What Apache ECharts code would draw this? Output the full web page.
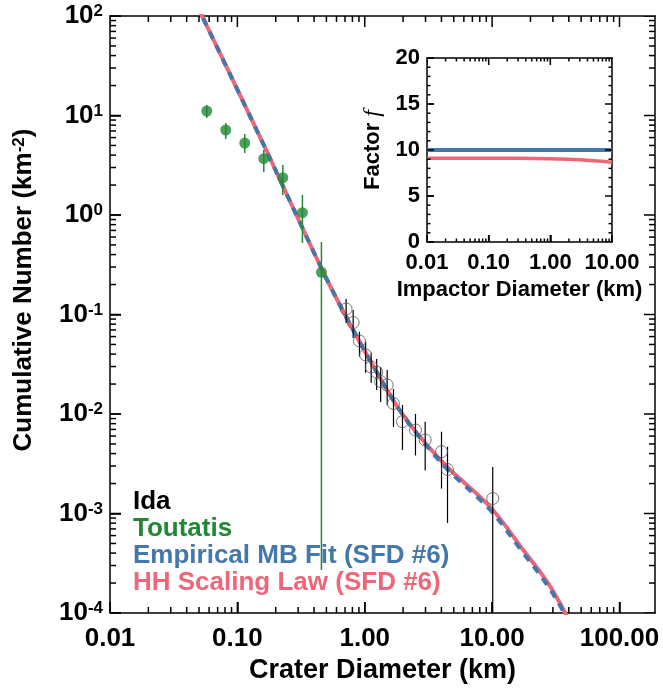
<!DOCTYPE html>
<html><head><meta charset="utf-8">
<script src="https://cdn.jsdelivr.net/npm/echarts@6/dist/echarts.min.js"></script>
<style>html,body{margin:0;padding:0;background:#fff}#c{width:663px;height:690px}</style>
</head><body><div id="c"></div>
<script>
// ---------- data ----------
// HH scaling law (SFD #6), red solid
const hhD = [0.0425, 0.0528, 0.0994, 0.171, 0.2164, 0.311, 0.5066, 0.811, 1.321, 1.897, 2.724, 4.44, 9.663, 17.55, 27.09, 37.52, 47.5];
const hhN = [178, 100, 18.5, 4.30, 2.248, 0.831, 0.2222, 0.0699, 0.0230, 0.01072, 0.00587, 0.002934, 0.001162, 0.000430, 0.000205, 0.0001, 0.0000535];
// Empirical MB fit (SFD #6), blue dashed
const mbD = [0.0425, 0.0528, 0.0994, 0.171, 0.2164, 0.311, 0.5066, 0.811, 1.321, 1.897, 2.724, 4.44, 9.663, 17.55, 27.09, 37.52, 47.5];
const mbN = [178, 100, 18.5, 4.30, 2.248, 0.831, 0.2222, 0.0699, 0.0230, 0.01072, 0.00574, 0.0028, 0.001084, 0.000401, 0.000191, 0.0000955, 0.0000511];
// Ida craters (open circles) with error bars
const idaD  = [0.714, 0.811, 0.909, 1.016, 1.123, 1.240, 1.333, 1.500, 1.681, 1.978, 2.502, 2.982, 4.005, 4.465, 10.11];
const idaN  = [0.1136, 0.0831, 0.0542, 0.0392, 0.0297, 0.0264, 0.0212, 0.01956, 0.01275, 0.00837, 0.0069, 0.00548, 0.00418, 0.00277, 0.001415];
const idaHi = [0.1432, 0.1110, 0.0672, 0.0533, 0.0413, 0.0357, 0.0297, 0.0277, 0.01783, 0.01232, 0.0100, 0.00837, 0.00664, 0.00469, 0.00293];
const idaLo = [0.0821, 0.0580, 0.0377, 0.0260, 0.02064, 0.01742, 0.0132, 0.01232, 0.0074, 0.00435, 0.00383, 0.0027, 0.00178, 0.000803, 0.00001];
// Toutatis craters (filled green) with error bars
const touD  = [0.0575, 0.0811, 0.1143, 0.1612, 0.2273, 0.324, 0.457];
const touN  = [11.1, 7.15, 5.29, 3.68, 2.37, 1.054, 0.2655];
const touHi = [12.75, 8.41, 6.52, 4.50, 3.18, 1.59, 0.535];
const touLo = [9.44, 5.81, 4.20, 2.71, 1.59, 0.523, 0.00027];
// Inset: factor f vs impactor diameter
const insetD   = [0.01, 0.03, 0.1, 0.3, 1, 2, 3, 5, 10];
const insetMB  = [10, 10, 10, 10, 10, 10, 10, 10, 10];
const insetHH  = [9.1, 9.1, 9.1, 9.09, 9.06, 9.0, 8.94, 8.84, 8.68];
// tick values
const mainXMajor = [0.01, 0.1, 1, 10, 100];
const mainYMajor = [1e-4, 1e-3, 1e-2, 1e-1, 1, 10, 100];
const insetXMajor = [0.01, 0.1, 1, 10];
const insetYMajor = [0, 5, 10, 15, 20];
const insetYMinor = [1, 2, 3, 4, 6, 7, 8, 9, 11, 12, 13, 14, 16, 17, 18, 19];

// ---------- chart ----------
const FONT = "'Liberation Sans', Arial, Helvetica, sans-serif";
const RED = '#EE6677', BLUE = '#4477AA', GREEN = '#228833';

function minors(lo, hi, vmin, vmax) {
  const out = [];
  for (let e = lo; e < hi; e++) for (let k = 2; k <= 9; k++) {
    const v = +(k * Math.pow(10, e)).toPrecision(3);
    if (v > vmin && v < vmax) out.push(v);
  }
  return out;
}
const MX = [0.01, 190], MY = [1e-4, 100], IX = [0.01, 10], IY = [0, 20];

// tick marks: same pattern as the error bars, positions from the axes' own scales
function tickSeries(idx, side, vals, L, xr, yr) {
  let data;
  if (side === 'b') data = vals.map(v => [v, yr[0], yr[0]]);
  else if (side === 't') data = vals.map(v => [v, yr[1], yr[1]]);
  else if (side === 'l') data = vals.map(v => [xr[0], v, v]);
  else data = vals.map(v => [xr[1], v, v]);
  return { type: 'custom', xAxisIndex: idx, yAxisIndex: idx, clip: true, z: 6,
    encode: { x: 0, y: [1, 2] }, data,
    renderItem: function (params, api) {
      const a = api.coord([api.value(0), api.value(1)]);
      let x2 = a[0], y2 = a[1];
      if (side === 'b') y2 = a[1] - L;
      else if (side === 't') y2 = a[1] + L;
      else if (side === 'l') x2 = a[0] + L;
      else x2 = a[0] - L;
      return { type: 'line', shape: { x1: a[0], y1: a[1], x2: x2, y2: y2 },
        style: { stroke: '#000', lineWidth: 1.5 } };
    } };
}
function allTicks(idx, xr, yr, xMaj, xMin, yMaj, yMin, LM, Lm) {
  return [
    tickSeries(idx, 'b', xMaj, LM, xr, yr), tickSeries(idx, 'b', xMin, Lm, xr, yr),
    tickSeries(idx, 't', xMaj, LM, xr, yr), tickSeries(idx, 't', xMin, Lm, xr, yr),
    tickSeries(idx, 'l', yMaj, LM, xr, yr), tickSeries(idx, 'l', yMin, Lm, xr, yr),
    tickSeries(idx, 'r', yMaj, LM, xr, yr), tickSeries(idx, 'r', yMin, Lm, xr, yr)
  ];
}

function errBar(color, width) {
  return function (params, api) {
    const a = api.coord([api.value(0), api.value(1)]);
    const b = api.coord([api.value(0), api.value(2)]);
    return { type: 'line', shape: { x1: a[0], y1: a[1], x2: b[0], y2: b[1] },
      style: { stroke: color, lineWidth: width } };
  };
}

const AXLINE = { show: true, onZero: false, lineStyle: { color: '#000', width: 1.5 } };
function boxAxis(type, grid, pos, range, extra) {
  return Object.assign({ type, gridIndex: grid, position: pos, min: range[0], max: range[1],
    axisLine: AXLINE, axisTick: { show: false }, axisLabel: { show: false }, splitLine: { show: false } }, extra || {});
}

const option = {
  animation: false,
  grid: [
    { left: 110, top: 16, width: 545, height: 597, outerBoundsMode: 'none', containLabel: false },
    { left: 427, top: 58, width: 185, height: 184, outerBoundsMode: 'none', containLabel: false }
  ],
  xAxis: [
    boxAxis('log', 0, 'bottom', MX, {
      axisTick: { show: true, inside: true, length: 11, customValues: mainXMajor, lineStyle: { color: '#000', width: 1.5 } },
      axisLabel: { show: true, customValues: mainXMajor, margin: 13, color: '#000', fontFamily: FONT, fontWeight: 'bold', fontSize: 26,
        formatter: v => (+v).toFixed(2) },
      name: 'Crater Diameter (km)', nameLocation: 'middle', nameGap: 30,
      nameTextStyle: { color: '#000', fontFamily: FONT, fontWeight: 'bold', fontSize: 27 } }),
    boxAxis('log', 1, 'bottom', IX, {
      axisTick: { show: true, inside: true, length: 7, customValues: insetXMajor, lineStyle: { color: '#000', width: 1.5 } },
      axisLabel: { show: true, customValues: insetXMajor, margin: 10, color: '#000', fontFamily: FONT, fontWeight: 'bold', fontSize: 22,
        formatter: v => (+v).toFixed(2) },
      name: 'Impactor Diameter (km)', nameLocation: 'middle', nameGap: 37,
      nameTextStyle: { color: '#000', fontFamily: FONT, fontWeight: 'bold', fontSize: 22 } }),
    boxAxis('log', 0, 'top', MX),
    boxAxis('log', 1, 'top', IX)
  ],
  yAxis: [
    boxAxis('log', 0, 'left', MY, {
      axisTick: { show: true, inside: true, length: 11, customValues: mainYMajor, lineStyle: { color: '#000', width: 1.5 } },
      axisLabel: { show: true, customValues: mainYMajor, margin: 7, color: '#000',
        formatter: v => '{b|10}{s|' + Math.round(Math.log10(v)) + '}',
        rich: { b: { fontFamily: FONT, fontWeight: 'bold', fontSize: 26, color: '#000', verticalAlign: 'bottom' },
                s: { fontFamily: FONT, fontWeight: 'bold', fontSize: 17, color: '#000', verticalAlign: 'top' } } } }),
    boxAxis('value', 1, 'left', IY, { interval: 5,
      axisTick: { show: true, inside: true, length: 7, lineStyle: { color: '#000', width: 1.5 } },
      axisLabel: { show: true, margin: 7, color: '#000', fontFamily: FONT, fontWeight: 'bold', fontSize: 22 } }),
    boxAxis('log', 0, 'right', MY),
    boxAxis('value', 1, 'right', IY, { interval: 5 })
  ],
  graphic: [
    { type: 'text', x: 24, y: 290, rotation: Math.PI / 2, z: 100,
      style: { text: '{a|Cumulative Number (km}{s|-2}{a|)}', align: 'center', verticalAlign: 'middle',
        rich: { a: { fontFamily: FONT, fontWeight: 'bold', fontSize: 26, fill: '#000', verticalAlign: 'bottom' },
                s: { fontFamily: FONT, fontWeight: 'bold', fontSize: 17, fill: '#000', verticalAlign: 'top' } } } },
    { type: 'text', x: 373, y: 150, rotation: Math.PI / 2, z: 100,
      style: { text: '{a|Factor }{f|f}', align: 'center', verticalAlign: 'middle',
        rich: { a: { fontFamily: FONT, fontWeight: 'bold', fontSize: 22, fill: '#000' },
                f: { fontFamily: "'Liberation Serif', 'DejaVu Serif', serif", fontStyle: 'italic', fontSize: 24, fill: '#000' } } } },
    { type: 'text', x: 133, y: 502, z: 100, style: { text: 'Ida', fill: '#000', font: 'bold 26px ' + FONT, verticalAlign: 'middle' } },
    { type: 'text', x: 133, y: 529, z: 100, style: { text: 'Toutatis', fill: GREEN, font: 'bold 26px ' + FONT, verticalAlign: 'middle' } },
    { type: 'text', x: 133, y: 556, z: 100, style: { text: 'Empirical MB Fit (SFD #6)', fill: BLUE, font: 'bold 26px ' + FONT, verticalAlign: 'middle' } },
    { type: 'text', x: 133, y: 583, z: 100, style: { text: 'HH Scaling Law (SFD #6)', fill: RED, font: 'bold 26px ' + FONT, verticalAlign: 'middle' } }
  ],
  series: [
    { type: 'line', name: 'HH', xAxisIndex: 0, yAxisIndex: 0, symbol: 'none', smooth: 0.35, clip: true,
      data: hhD.map((d, i) => [d, hhN[i]]), lineStyle: { color: RED, width: 4 }, z: 2 },
    { type: 'line', name: 'MB', xAxisIndex: 0, yAxisIndex: 0, symbol: 'none', smooth: 0.35, clip: true,
      data: mbD.map((d, i) => [d, mbN[i]]), lineStyle: { color: BLUE, width: 4, type: [8, 7] }, z: 3 },
    { type: 'custom', name: 'IdaErr', xAxisIndex: 0, yAxisIndex: 0, clip: true, z: 4,
      renderItem: errBar('#000', 1.2), encode: { x: 0, y: [1, 2] },
      data: idaD.map((d, i) => [d, idaHi[i], idaLo[i]]) },
    { type: 'scatter', name: 'Ida', xAxisIndex: 0, yAxisIndex: 0, symbol: 'circle', symbolSize: 12, z: 5,
      itemStyle: { color: 'rgba(0,0,0,0)', borderColor: '#555', borderWidth: 1 },
      data: idaD.map((d, i) => [d, idaN[i]]) },
    { type: 'custom', name: 'TouErr', xAxisIndex: 0, yAxisIndex: 0, clip: true, z: 6,
      renderItem: errBar(GREEN, 1.5), encode: { x: 0, y: [1, 2] },
      data: touD.map((d, i) => [d, touHi[i], touLo[i]]) },
    { type: 'scatter', name: 'Toutatis', xAxisIndex: 0, yAxisIndex: 0, symbol: 'circle', symbolSize: 11, z: 7,
      itemStyle: { color: GREEN },
      data: touD.map((d, i) => [d, touN[i]]) },
    { type: 'line', name: 'insetMB', xAxisIndex: 1, yAxisIndex: 1, symbol: 'none', clip: true, z: 3,
      data: insetD.map((d, i) => [d, insetMB[i]]), lineStyle: { color: BLUE, width: 4 } },
    { type: 'line', name: 'insetHH', xAxisIndex: 1, yAxisIndex: 1, symbol: 'none', smooth: 0.3, clip: true, z: 2,
      data: insetD.map((d, i) => [d, insetHH[i]]), lineStyle: { color: RED, width: 3.5 } }
  ].concat(
    allTicks(0, MX, MY, mainXMajor, minors(-2, 3, MX[0], MX[1]), mainYMajor, minors(-4, 2, MY[0], MY[1]), 11, 6),
    allTicks(1, IX, IY, insetXMajor, minors(-2, 1, IX[0], IX[1]), insetYMajor, insetYMinor, 7, 3.5)
  )
};
const chart = echarts.init(document.getElementById('c'));
chart.setOption(option);
</script>
</body></html>
